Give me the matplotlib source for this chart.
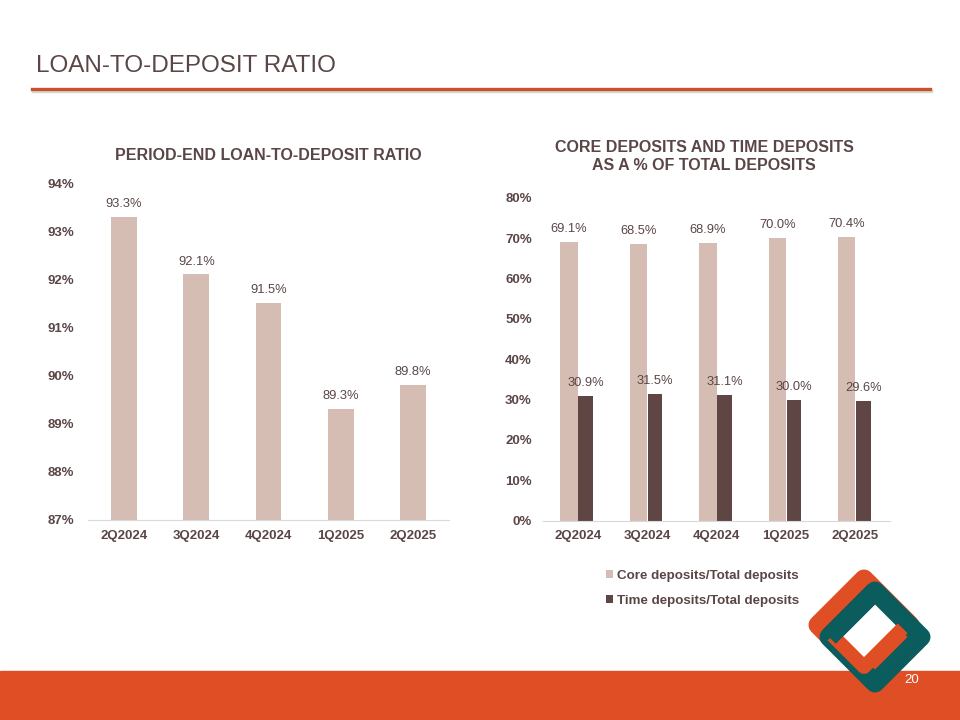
import numpy as np
import matplotlib
matplotlib.use("Agg")
from matplotlib import pyplot as plt
from matplotlib.lines import Line2D
from matplotlib.patches import Rectangle, Polygon

plt.rcParams['font.family'] = ['Liberation Sans', 'DejaVu Sans']

# data
quarters = ['2Q2024', '3Q2024', '4Q2024', '1Q2025', '2Q2025']
ltd_ratio = [93.3, 92.1, 91.5, 89.3, 89.8]
core_pct = [69.1, 68.5, 68.9, 70.0, 70.4]
time_pct = [30.9, 31.5, 31.1, 30.0, 29.6]
left_ticks = [87, 88, 89, 90, 91, 92, 93, 94]
right_ticks = [0, 10, 20, 30, 40, 50, 60, 70, 80]

TXT = '#5a4646'
LIGHT = '#d5bdb4'
DARK = '#604545'
ORANGE = '#e04e25'
TEAL = '#0b5c5c'

W, H = 960, 720
fig = plt.figure(figsize=(9.6, 7.2), dpi=100)


def fx(px):
    return px / W


def fy(py):
    return 1 - py / H


# header
fig.text(fx(36), fy(66), 'LOAN-TO-DEPOSIT RATIO', fontsize=17.5, color=TXT,
         ha='left', va='center')
fig.add_artist(Line2D([fx(33), fx(931)], [fy(91), fy(91)], color='#d8d8d8',
                      lw=2.5, transform=fig.transFigure))
fig.add_artist(Line2D([fx(32), fx(930)], [fy(88.5), fy(88.5)], color='#c9522a',
                      lw=2.4, transform=fig.transFigure))

# footer band
fig.add_artist(Rectangle((0, 0), 1, 49 / H, transform=fig.transFigure,
                         color=ORANGE, zorder=1))

x = np.arange(len(quarters))


def style_axes(ax, ypad):
    ax.set_xlim(-0.5, 4.5)
    ax.set_xticks(x)
    ax.set_xticklabels(quarters)
    ax.tick_params(axis='y', length=0, pad=ypad, labelsize=9.5, labelcolor=TXT)
    ax.tick_params(axis='x', length=0, pad=7, labelsize=9.5, labelcolor=TXT)
    for lab in ax.get_xticklabels() + ax.get_yticklabels():
        lab.set_fontweight('bold')
    for s in ['top', 'right', 'left']:
        ax.spines[s].set_visible(False)
    ax.spines['bottom'].set_color('#d9d9d9')


# ---- left chart
ax1 = fig.add_axes([fx(88), fy(520), 361 / W, 337 / H])
ax1.bar(x, [v - 87 for v in ltd_ratio], bottom=87, width=0.36, color=LIGHT,
        zorder=2)
for i, v in enumerate(ltd_ratio):
    ax1.annotate('%.1f%%' % v, (x[i], v), xytext=(0, 5),
                 textcoords='offset points', ha='center', va='bottom',
                 fontsize=9.3, color=TXT)
ax1.set_ylim(87, 94)
ax1.set_yticks(left_ticks)
ax1.set_yticklabels(['%d%%' % t for t in left_ticks])
style_axes(ax1, 10)
fig.text(fx(268), fy(155), 'PERIOD-END LOAN-TO-DEPOSIT RATIO', fontsize=11.5,
         fontweight='bold', color=TXT, ha='center', va='center')

# ---- right chart
ax2 = fig.add_axes([fx(543), fy(520.5), 347 / W, 322.5 / H])
b1 = ax2.bar(x - 0.125, core_pct, width=0.25, color=LIGHT, zorder=2,
             label='Core deposits/Total deposits')
b2 = ax2.bar(x + 0.115, time_pct, width=0.21, color=DARK, zorder=2,
             label='Time deposits/Total deposits')
for i in range(len(quarters)):
    ax2.annotate('%.1f%%' % core_pct[i], (x[i] - 0.125, core_pct[i]),
                 xytext=(0, 5), textcoords='offset points', ha='center',
                 va='bottom', fontsize=9.3, color=TXT)
    ax2.annotate('%.1f%%' % time_pct[i], (x[i] + 0.115, time_pct[i]),
                 xytext=(0, 5), textcoords='offset points', ha='center',
                 va='bottom', fontsize=9.3, color=TXT)
ax2.set_ylim(0, 80)
ax2.set_yticks(right_ticks)
ax2.set_yticklabels(['%d%%' % t for t in right_ticks])
style_axes(ax2, 8)
fig.text(fx(704), fy(147), 'CORE DEPOSITS AND TIME DEPOSITS', fontsize=11.5,
         fontweight='bold', color=TXT, ha='center', va='center')
fig.text(fx(704), fy(165), 'AS A % OF TOTAL DEPOSITS', fontsize=11.5,
         fontweight='bold', color=TXT, ha='center', va='center')

leg = fig.legend(handles=[b1, b2], loc='upper left',
                 bbox_to_anchor=(fx(606), fy(570)), frameon=False,
                 fontsize=9.6, handlelength=0.55, handleheight=0.55,
                 handletextpad=0.3, labelspacing=0.95, borderpad=0,
                 borderaxespad=0)
for t in leg.get_texts():
    t.set_color(TXT)
    t.set_fontweight('bold')


# logo, pixel coords measured from the top-left corner
def diamond(cx, cy, d):
    # left, top, right, bottom in inches for dpi_scale_trans
    return [((cx - d) / 100, (H - cy) / 100), (cx / 100, (H - cy + d) / 100),
            ((cx + d) / 100, (H - cy) / 100), (cx / 100, (H - cy - d) / 100)]


def stroke(pts, col, lw, z):
    fig.add_artist(Line2D([p[0] for p in pts], [p[1] for p in pts], color=col,
                          lw=lw, solid_joinstyle='round',
                          solid_capstyle='butt',
                          transform=fig.dpi_scale_trans, zorder=z))


def along(a, b, t):
    return (a[0] + (b[0] - a[0]) * t, a[1] + (b[1] - a[1]) * t)


ring_lw = 13.7
org = diamond(864, 625, 46)
teal = diamond(875, 637, 46)
fig.add_artist(Polygon(org, closed=True, fill=False, edgecolor=ORANGE,
                       lw=ring_lw, joinstyle='round',
                       transform=fig.dpi_scale_trans, zorder=3))
fig.add_artist(Polygon(teal, closed=True, fill=False, edgecolor=TEAL,
                       lw=ring_lw, joinstyle='round',
                       transform=fig.dpi_scale_trans, zorder=4))
# inner part of the orange lower half laid over the teal ring
vee = diamond(864, 625, 42)
stroke([along(vee[0], vee[3], 0.25), vee[3], along(vee[2], vee[3], 0.08)],
       ORANGE, 10, 5)
# teal upper-left edge stays on top
stroke([teal[0], teal[1]], TEAL, ring_lw, 6)

fig.text(fx(912), fy(680), '20', fontsize=9.5, color='white', ha='center',
         va='center', zorder=7)

fig.savefig('out.png', dpi=100)
